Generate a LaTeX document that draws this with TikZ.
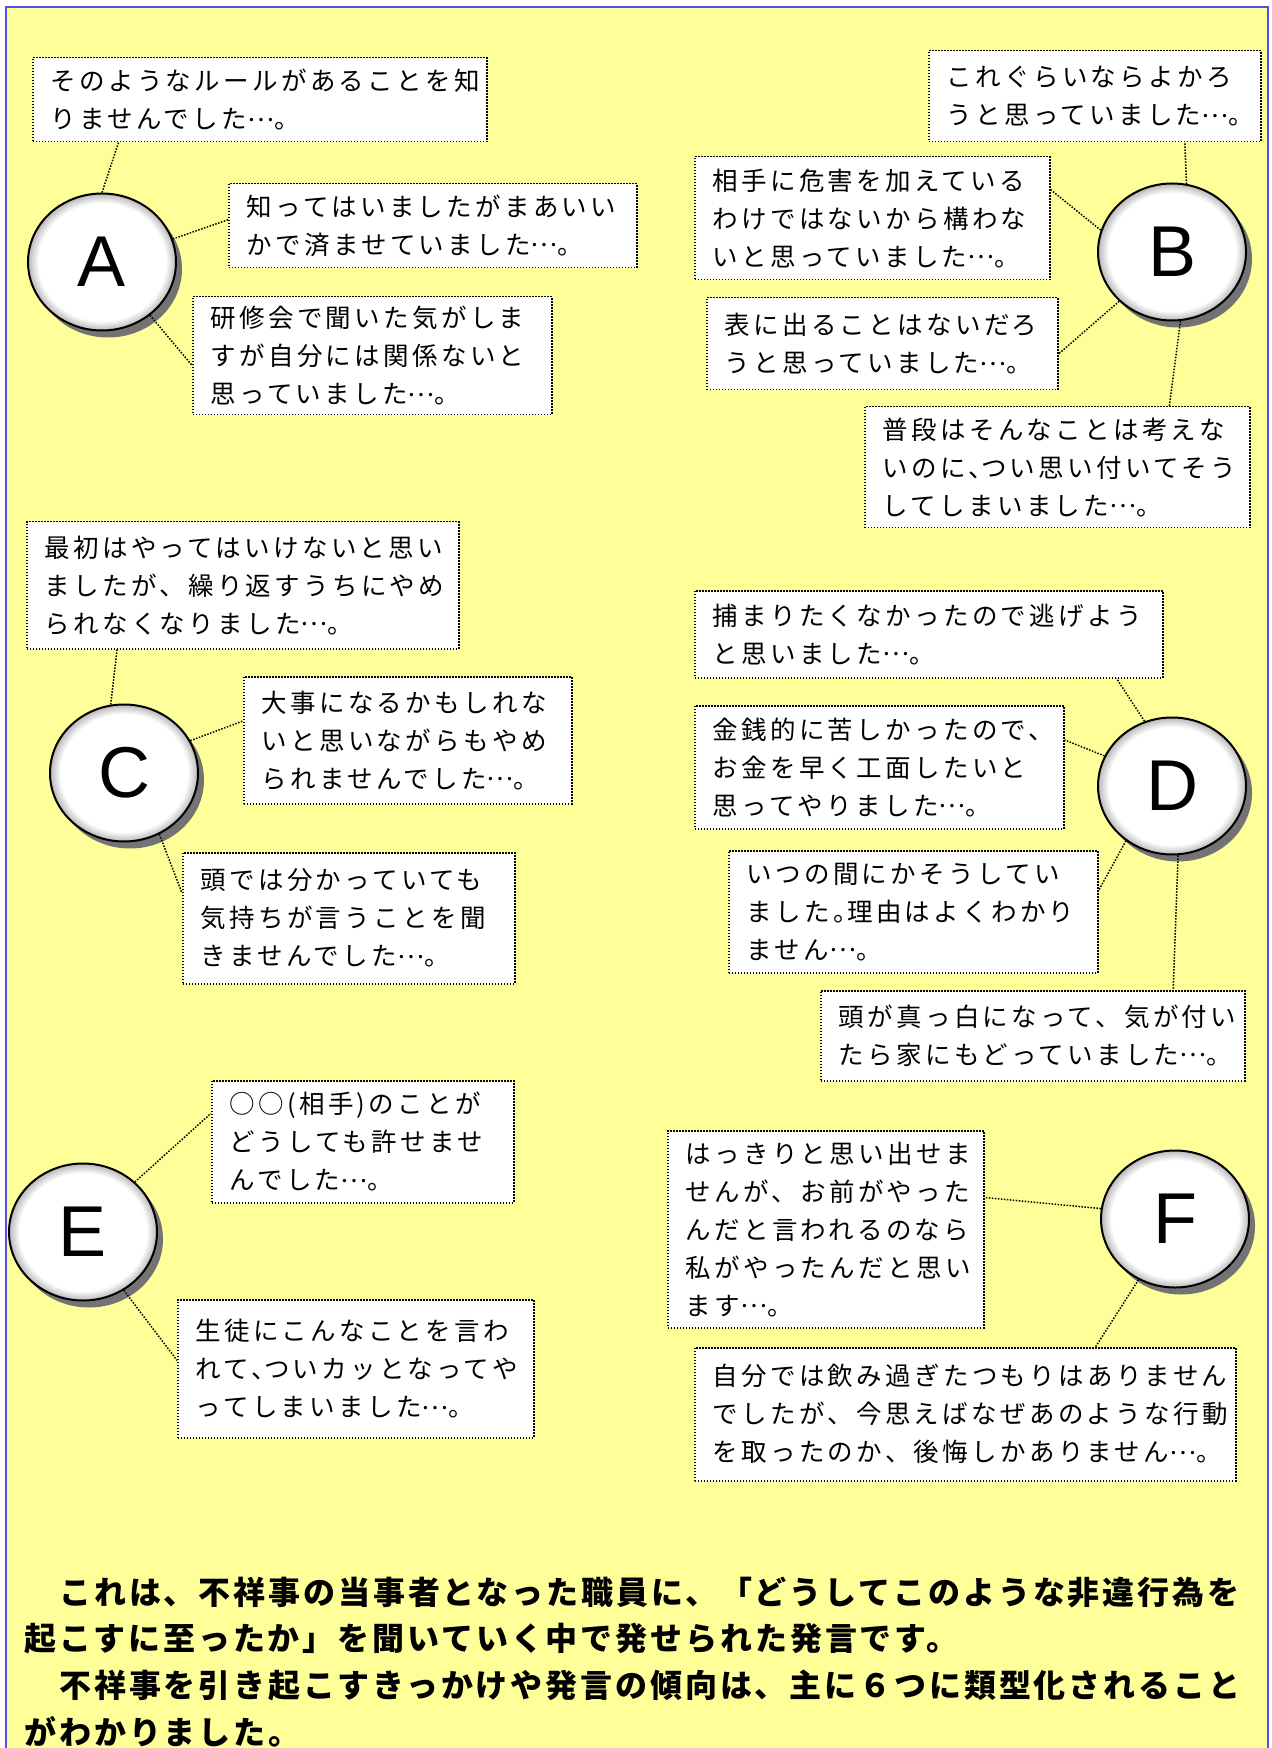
\documentclass[tikz,border=0pt]{standalone}
\usepackage{fontspec}
\usetikzlibrary{shapes.geometric,shadows,calc}
\newfontfamily\jpbox{Noto Sans CJK JP}[LetterSpace=13]
\newfontfamily\jpbold{Noto Sans CJK JP}[LetterSpace=9]
\newfontfamily\latinfont{Liberation Sans}
\definecolor{bgyellow}{HTML}{FFFF99}
\definecolor{frameblue}{RGB}{80,80,240}
\newcommand{\tdots}{\raisebox{0.3em}{…}}
\pgfdeclareradialshading{rimshade}{\pgfpoint{0bp}{0bp}}{color(0bp)=(white); color(21.5bp)=(white); color(25bp)=(black!28); color(50bp)=(black!28)}
\begin{document}
\begin{tikzpicture}[x=0.5pt,y=-0.5pt,
  box/.style={draw=black, fill=white, dash pattern=on 0.75pt off 0.75pt, line width=0.75pt,
    inner xsep=9pt, inner ysep=2pt, align=left, anchor=north west,
    font=\jpbox\fontsize{12.75pt}{19pt}\selectfont},
  conn/.style={draw=black, dash pattern=on 0.75pt off 0.75pt, line width=0.75pt},
  letter/.style={ellipse, draw=black, line width=1pt, minimum width=74pt, minimum height=68.5pt,
    inner sep=0pt, shading=rimshade,
    drop shadow={shadow xshift=3pt, shadow yshift=-3.5pt, fill=black!55, opacity=1},
    font=\latinfont\fontsize{36pt}{36pt}\selectfont},
  btext/.style={anchor=base west, inner sep=0pt, font=\jpbold\bfseries\fontsize{16pt}{20pt}\selectfont}]
\useasboundingbox (0,0) rectangle (1271,1748);
\fill[white] (0,0) rectangle (1271,1748);
\fill[bgyellow] (6,7) rectangle (1268,1748);
\draw[frameblue, line width=1pt] (6,1748) -- (6,7) -- (1268,7) -- (1268,1748);

% ---- circles
\node[letter] (A) at (102,262) {A};
\node[letter] (B) at (1172,252) {B};
\node[letter] (C) at (124,773) {C};
\node[letter] (D) at (1172,786) {D};
\node[letter] (E) at (83,1232) {E};
\node[letter] (F) at (1175,1219) {F};

% ---- boxes
\node[box, text width=209pt, minimum height=42pt] (a1) at (32,57) {そのようなルールがあることを知\\りませんでした\tdots。};
\node[box, text width=186pt, minimum height=42pt] (a2) at (228,183) {知ってはいましたがまあいい\\かで済ませていました\tdots。};
\node[box, text width=161.5pt, minimum height=59pt] (a3) at (192,296) {研修会で聞いた気がしま\\すが自分には関係ないと\\思っていました\tdots。};

\node[box, text width=148pt, minimum height=45.5pt] (b1) at (928,50) {これぐらいならよかろ\\うと思っていました\tdots。};
\node[box, text width=159.5pt, minimum height=61.5pt] (b2) at (694,156) {相手に危害を加えている\\わけではないから構わな\\いと思っていました\tdots。};
\node[box, text width=157.5pt, minimum height=46pt] (b3) at (706,297) {表に出ることはないだろ\\うと思っていました\tdots。};
\node[box, text width=174.5pt, minimum height=60.5pt] (b4) at (864,406) {普段はそんなことは考えな\\いのに、\kern-.5em つい思い付いてそう\\してしまいました\tdots。};

\node[box, text width=198pt, minimum height=63.5pt] (c1) at (26,521) {最初はやってはいけないと思い\\ましたが、繰り返すうちにやめ\\られなくなりました\tdots。};
\node[box, text width=146pt, minimum height=63.5pt] (c2) at (243,676) {大事になるかもしれな\\いと思いながらもやめ\\られませんでした\tdots。};
\node[box, text width=148pt, minimum height=65.5pt] (c3) at (182,852) {頭では分かっていても\\気持ちが言うことを聞\\きませんでした\tdots。};

\node[box, text width=216pt, minimum height=43.5pt] (d1) at (694,590) {捕まりたくなかったので逃げよう\\と思いました\tdots。};
\node[box, text width=166.5pt, minimum height=61.5pt] (d2) at (694,705) {金銭的に苦しかったので、\\お金を早く工面したいと\\思ってやりました\tdots。};
\node[box, text width=166.5pt, minimum height=61pt] (d3) at (728,850) {いつの間にかそうしてい\\ました。\kern-.45em 理由はよくわかり\\ません\tdots。};
\node[box, text width=194pt, minimum height=45pt] (d4) at (820,990) {頭が真っ白になって、気が付い\\たら家にもどっていました\tdots。};

\node[box, text width=133pt, minimum height=61pt] (e1) at (211,1080) {○○(相手)のことが\\どうしても許せませ\\んでした\tdots。};
\node[box, text width=160pt, minimum height=69pt] (e2) at (177,1299) {生徒にこんなことを言わ\\れて、\kern-.5em ついカッとなってや\\ってしまいました\tdots。};

\node[box, text width=140pt, minimum height=98.5pt] (f1) at (667,1130) {はっきりと思い出せま\\せんが、お前がやった\\んだと言われるのなら\\私がやったんだと思い\\ます\tdots。};
\node[box, text width=252.5pt, minimum height=66.5pt] (f2) at (694,1347) {自分では飲み過ぎたつもりはありません\\でしたが、今思えばなぜあのような行動\\を取ったのか、後悔しかありません\tdots。};

% ---- connectors
\draw[conn] (A.90) -- ($(a1.south west)!0.19!(a1.south east)$);
\draw[conn] (A.18) -- ($(a2.north west)!0.43!(a2.south west)$);
\draw[conn] (A.-48) -- ($(a3.north west)!0.58!(a3.south west)$);

\draw[conn] (B.78) -- ($(b1.south west)!0.77!(b1.south east)$);
\draw[conn] (B.163) -- ($(b2.north east)!0.27!(b2.south east)$);
\draw[conn] (B.223) -- ($(b3.north east)!0.61!(b3.south east)$);
\draw[conn] (B.-83) -- ($(b4.north west)!0.79!(b4.north east)$);

\draw[conn] (C.101) -- ($(c1.south west)!0.21!(c1.south east)$);
\draw[conn] (C.26) -- ($(c2.north west)!0.35!(c2.south west)$);
\draw[conn] (C.-60) -- ($(c3.north west)!0.31!(c3.south west)$);

\draw[conn] (D.113) -- ($(d1.south west)!0.90!(d1.south east)$);
\draw[conn] (D.156) -- ($(d2.north east)!0.28!(d2.south east)$);
\draw[conn] (D.230) -- ($(d3.north east)!0.33!(d3.south east)$);
\draw[conn] (D.-85) -- ($(d4.north west)!0.83!(d4.north east)$);

\draw[conn] (E.44) -- ($(e1.north west)!0.27!(e1.south west)$);
\draw[conn] (E.-55) -- ($(e2.north west)!0.44!(e2.south west)$);

\draw[conn] (F.172) -- ($(f1.north east)!0.34!(f1.south east)$);
\draw[conn] (F.239) -- ($(f2.north west)!0.74!(f2.north east)$);

% ---- bottom text
\node[btext] (t1) at (24,1604) {　これは、不祥事の当事者となった職員に、「どうしてこのような非違行為を};
\node[btext] (t2) at (24,1650) {起こすに至ったか」を聞いていく中で発せられた発言です。};
\node[btext] (t3) at (24,1697) {　不祥事を引き起こすきっかけや発言の傾向は、主に６つに類型化されること};
\node[btext] (t4) at (24,1744) {がわかりました。};
\end{tikzpicture}
\end{document}
